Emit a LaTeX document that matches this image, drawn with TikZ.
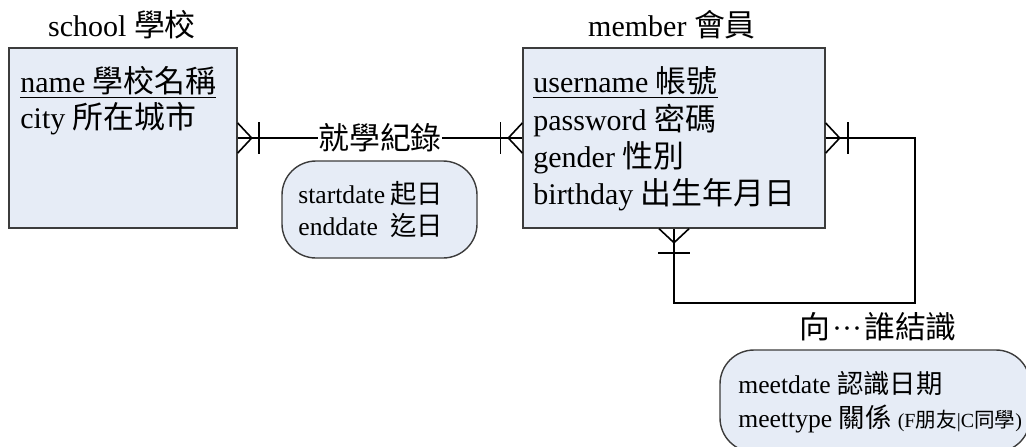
\documentclass[tikz,border=0pt]{standalone}
\usepackage{fontspec}
\setmainfont{Liberation Serif}
\newfontfamily\cjk[Scale=1.03]{Noto Sans CJK TC}
\usetikzlibrary{calc}
\definecolor{boxfill}{RGB}{230,236,246}
\definecolor{boxline}{RGB}{60,60,60}
\begin{document}
\begin{tikzpicture}[x=0.5pt,y=-0.5pt,
  entity/.style={draw=boxline,fill=boxfill,line width=0.7pt,inner sep=0},
  attrbox/.style={draw=boxline,fill=boxfill,line width=0.7pt,rounded corners=17pt,inner sep=0},
  txt/.style={anchor=base west,inner sep=0,font=\fontsize{15}{18}\selectfont},
  ttl/.style={anchor=base,inner sep=0,font=\fontsize{15}{18}\selectfont},
  rel/.style={anchor=center,inner sep=0,font=\fontsize{15}{18}\selectfont},
  small/.style={anchor=base west,inner sep=0,font=\fontsize{12.8}{15}\selectfont},
  conn/.style={line width=0.8pt,black}]
\useasboundingbox (0,0) rectangle (1026,446);
\clip (0,0) rectangle (1026,446);
% entities
\node[entity,minimum width=114pt,minimum height=90pt] (school) at (123,138) {};
\node[entity,minimum width=151pt,minimum height=90pt] (member) at (674,138) {};
% attribute boxes of relationships
\node[attrbox,minimum width=97.5pt,minimum height=48.5pt] (dates) at (379.5,209.5) {};
\node[attrbox,minimum width=155pt,minimum height=51pt] (meet) at (875,401) {};
% titles
\node[ttl] (schoolT) at (122,36) {school {\cjk 學校}};
\node[ttl] (memberT) at (672,36) {member {\cjk 會員}};
% school attributes
\node[txt] (sname) at (20,92) {\underline{name {\cjk 學校名稱}}};
\node[txt] (scity) at (20,128) {city {\cjk 所在城市}};
% member attributes
\node[txt] (mu) at (533,92) {\underline{username {\cjk 帳號}}};
\node[txt] (mp) at (533,130) {password {\cjk 密碼}};
\node[txt] (mg) at (533,167) {gender {\cjk 性別}};
\node[txt] (mb) at (533,204) {birthday {\cjk 出生年月日}};
% relationship attributes
\node[small] (sd) at (298,203) {\makebox[46pt][l]{startdate}{\cjk 起日}};
\node[small] (ed) at (298,235) {\makebox[46pt][l]{enddate}{\cjk 迄日}};
\node[small] (md) at (738,393) {meetdate {\cjk 認識日期}};
\node[small] (mt) at (738,427) {meettype {\cjk 關係} {\fontsize{10}{12}\selectfont (F{\cjk 朋友}|C{\cjk 同學})}};
% relationship labels
\node[rel] (rel1) at (380,138) {\cjk 就學紀錄};
\node[ttl] (rel2) at (878,338) {{\cjk 向}\kern1pt···\kern1pt{\cjk 誰結識}};
% connectors
\coordinate (c1) at (915,138);
\coordinate (c2) at (915,303);
\coordinate (c3) at (674,303);
\draw[conn] (school.east) -- (rel1.west);
\draw[conn] (rel1.east) -- (member.west);
\draw[conn] (member.east) -- (c1) -- (c2) -- (c3) -- (member.south);
% crow's feet and bars
\draw[conn] ($(school.east)+(0,-15)$) -- ($(school.east)+(14,0)$) -- ($(school.east)+(0,15)$);
\draw[conn] ($(school.east)+(21,-16)$) -- ($(school.east)+(21,16)$);
\draw[conn] ($(member.west)+(0,-15)$) -- ($(member.west)+(-14,0)$) -- ($(member.west)+(0,15)$);
\draw[conn] ($(member.west)+(-22,-16)$) -- ($(member.west)+(-22,16)$);
\draw[conn] ($(member.east)+(0,-15)$) -- ($(member.east)+(14,0)$) -- ($(member.east)+(0,15)$);
\draw[conn] ($(member.east)+(22,-16)$) -- ($(member.east)+(22,16)$);
\draw[conn] ($(member.south)+(-15,0)$) -- ($(member.south)+(0,14)$) -- ($(member.south)+(15,0)$);
\draw[conn] ($(member.south)+(-16,24)$) -- ($(member.south)+(16,24)$);
\end{tikzpicture}
\end{document}
